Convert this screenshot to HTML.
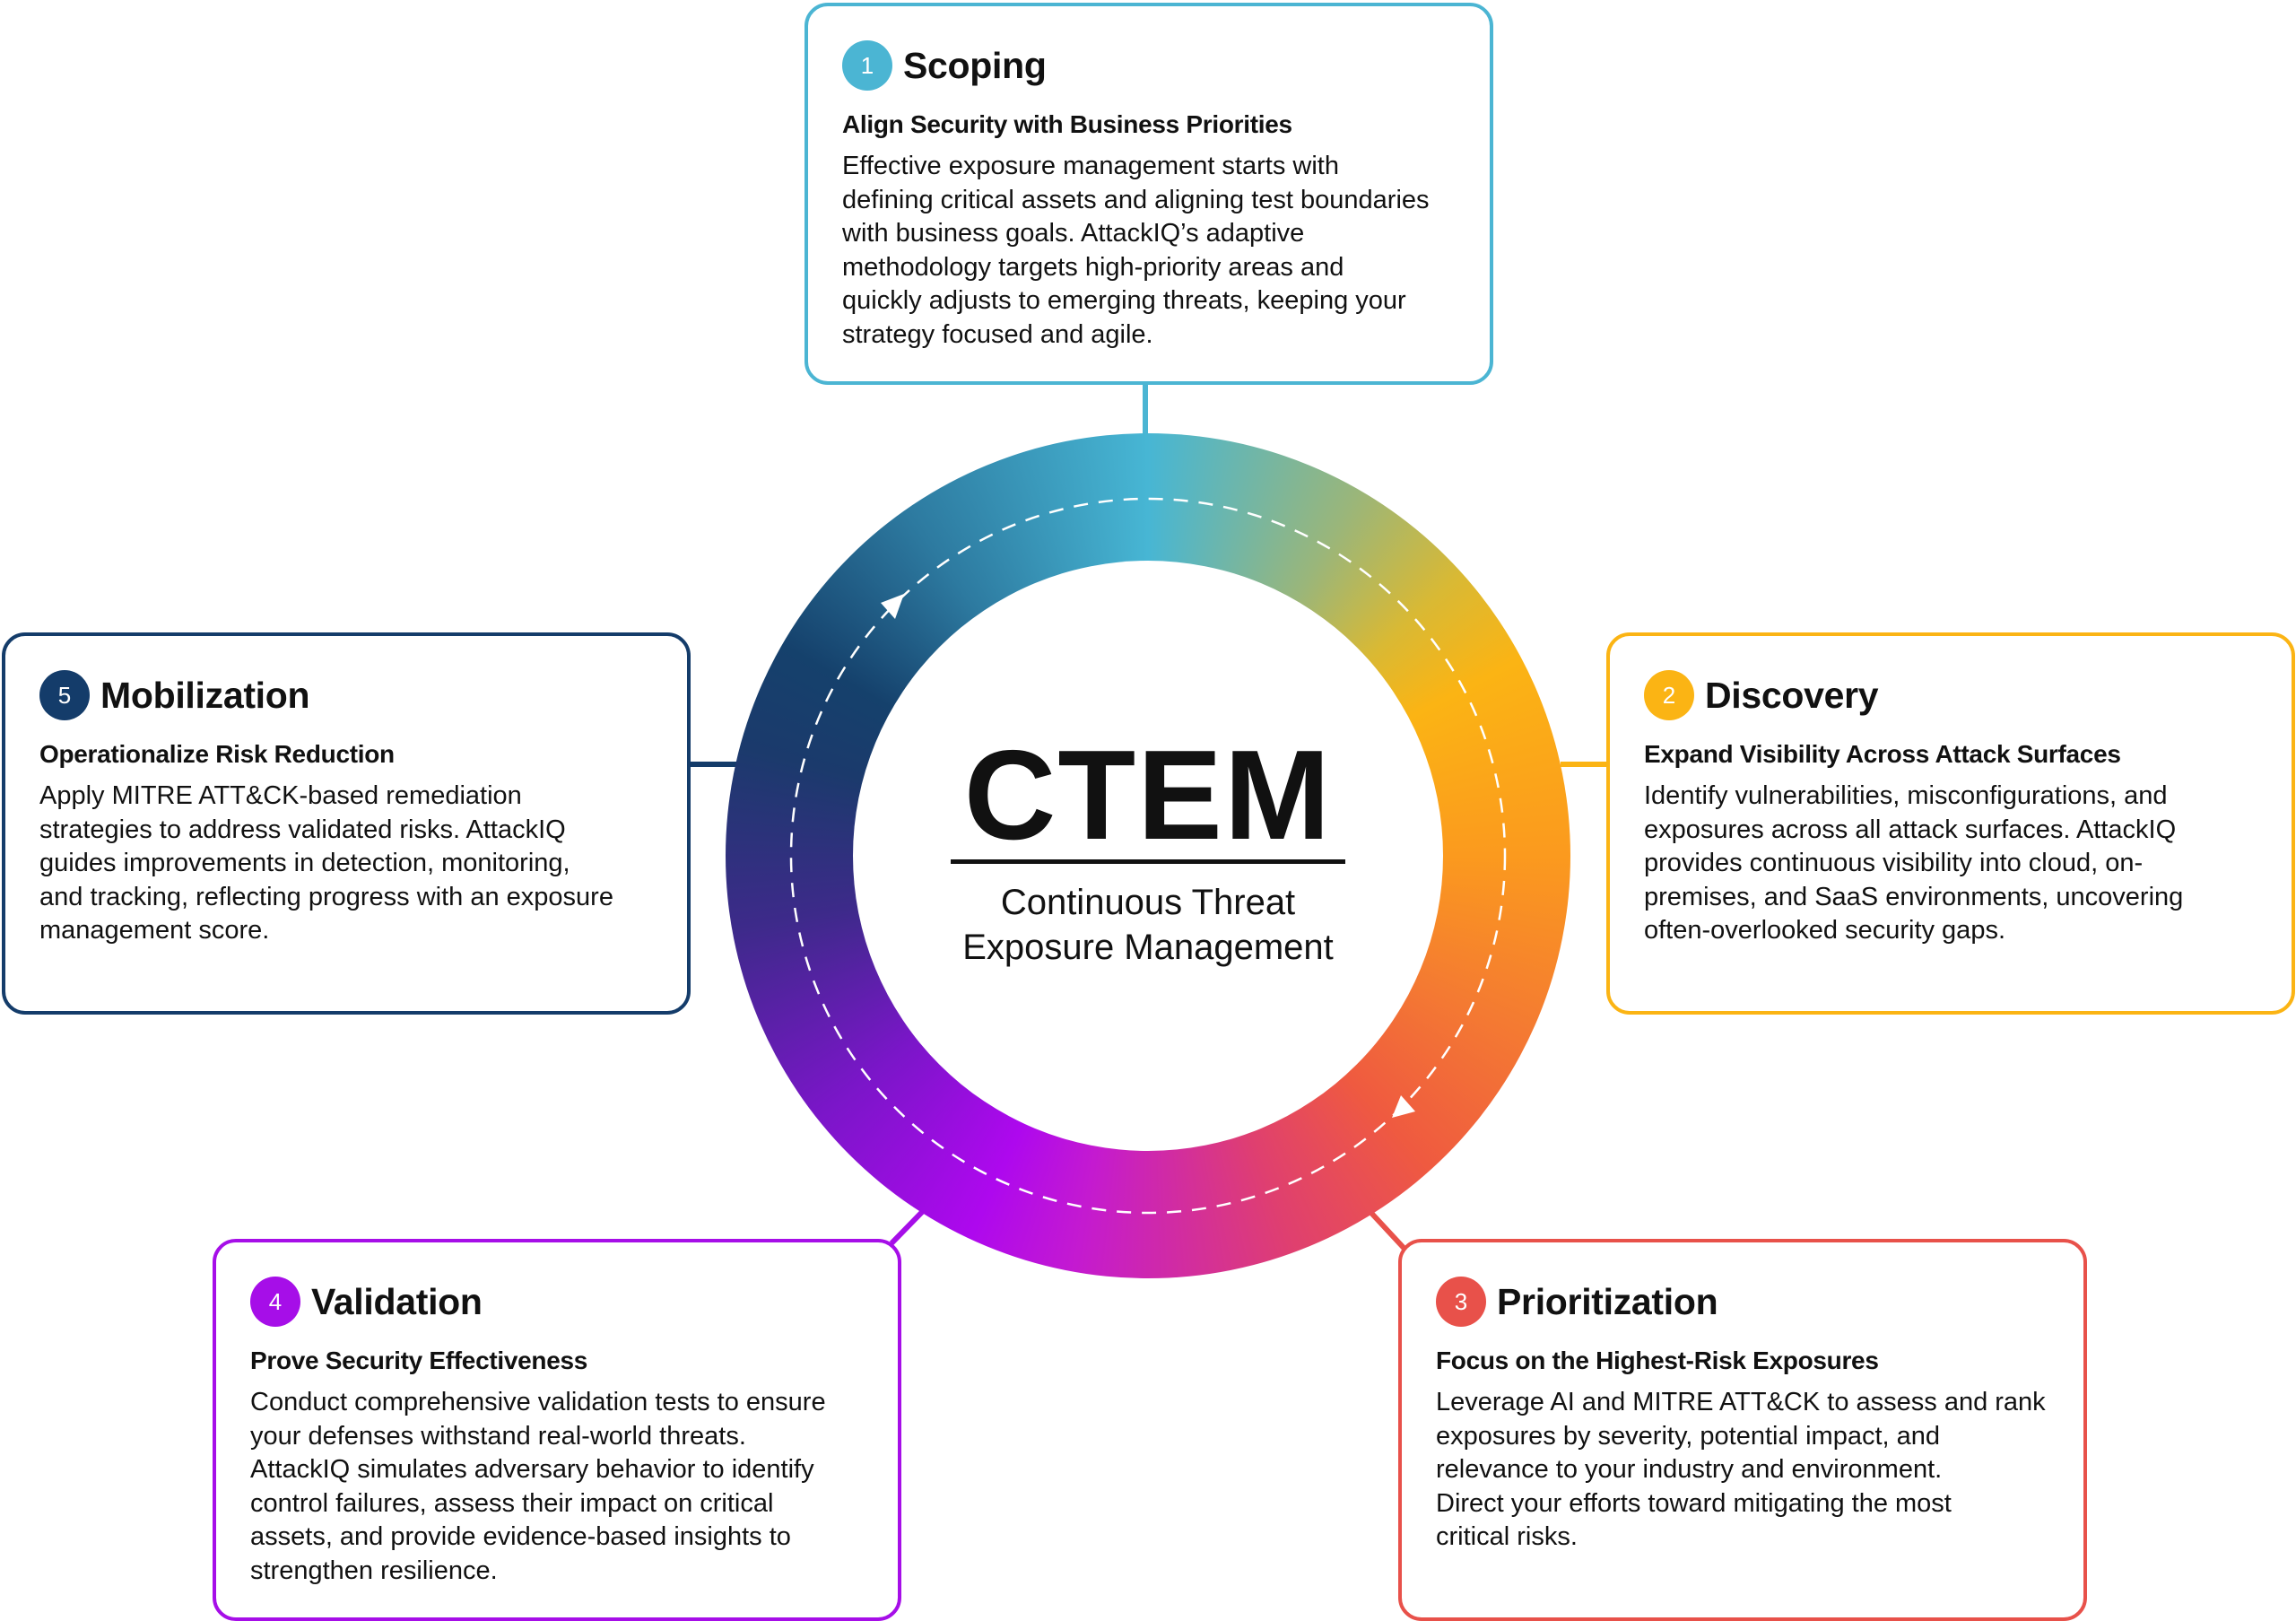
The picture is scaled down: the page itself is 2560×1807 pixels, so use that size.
<!DOCTYPE html>
<html><head><meta charset="utf-8"><style>
html,body{margin:0;padding:0;}
body{width:2560px;height:1807px;position:relative;background:#fff;overflow:hidden;font-family:"Liberation Sans",sans-serif;color:#111;}
.box{position:absolute;box-sizing:border-box;border:4px solid;border-radius:26px;background:#fff;width:768px;height:426px;}
.num{position:absolute;left:38px;top:38px;width:56px;height:56px;border-radius:50%;color:#fff;font-size:26px;line-height:56px;text-align:center;}
.title{position:absolute;left:106px;top:38px;font-size:41px;line-height:56px;font-weight:bold;letter-spacing:-0.3px;}
.sub{position:absolute;left:38px;top:112px;font-size:28px;line-height:40px;font-weight:bold;letter-spacing:-0.3px;}
.body{position:absolute;left:38px;top:160px;font-size:29px;line-height:37.6px;white-space:nowrap;letter-spacing:0px;}
.ln{position:absolute;}
</style></head><body>

<div class="ln" style="left:1274px;top:424px;width:6px;height:64px;background:#4bb5d3"></div>
<div class="ln" style="left:766px;top:849px;width:60px;height:6px;background:#143c6a"></div>
<div class="ln" style="left:1740px;top:849px;width:54px;height:6px;background:#fbb414"></div>
<svg style="position:absolute;left:0;top:0" width="2560" height="1807">
<line x1="994" y1="1386" x2="1034" y2="1345" stroke="#a60ee8" stroke-width="6"/>
<line x1="1527" y1="1350" x2="1566" y2="1392" stroke="#e8514a" stroke-width="6"/>
</svg>

<div style="position:absolute;left:809px;top:483px;width:942px;height:942px;border-radius:50%;
background:conic-gradient(from 0deg,#47b6d4 0deg,#9ab67a 30deg,#d9b934 48deg,#fbb414 62deg,#fb9a1e 90deg,#f47a32 115deg,#ef5a40 138deg,#df3f70 160deg,#c41ad0 190deg,#ae08ee 205deg,#7a16c8 232deg,#3d2a8a 260deg,#1b3a6c 285deg,#15416c 300deg,#2d7aa0 325deg,#47b6d4 360deg);"></div>
<div style="position:absolute;left:951px;top:625px;width:658px;height:658px;border-radius:50%;background:#fff;"></div>
<svg style="position:absolute;left:0;top:0" width="2560" height="1807">
<circle cx="1280" cy="954" r="398" fill="none" stroke="#fff" stroke-width="2.5" stroke-dasharray="16 12"/>
<polygon points="1008,662 982,672 998,690" fill="#fff"/>
<polygon points="1552,1246 1578,1239 1562,1221" fill="#fff"/>
</svg>

<div style="position:absolute;left:1060px;top:812px;width:440px;text-align:center;font-size:142px;line-height:150px;font-weight:bold;letter-spacing:2px;">CTEM</div>
<div style="position:absolute;left:1060px;top:958px;width:440px;height:5px;background:#111"></div>
<div style="position:absolute;left:1000px;top:981px;width:560px;text-align:center;font-size:40px;line-height:50px;">Continuous Threat<br>Exposure Management</div>

<div class="box" style="left:897px;top:3px;border-color:#4bb5d3">
<div class="num" style="background:#4bb5d3">1</div>
<div class="title">Scoping</div>
<div class="sub">Align Security with Business Priorities</div>
<div class="body">Effective exposure management starts with<br>defining critical assets and aligning test boundaries<br>with business goals. AttackIQ’s adaptive<br>methodology targets high-priority areas and<br>quickly adjusts to emerging threats, keeping your<br>strategy focused and agile.</div>
</div>

<div class="box" style="left:2px;top:705px;border-color:#143c6a">
<div class="num" style="background:#143c6a">5</div>
<div class="title">Mobilization</div>
<div class="sub">Operationalize Risk Reduction</div>
<div class="body">Apply MITRE ATT&amp;CK-based remediation<br>strategies to address validated risks. AttackIQ<br>guides improvements in detection, monitoring,<br>and tracking, reflecting progress with an exposure<br>management score.</div>
</div>

<div class="box" style="left:1791px;top:705px;border-color:#fbb414">
<div class="num" style="background:#fbb414">2</div>
<div class="title">Discovery</div>
<div class="sub">Expand Visibility Across Attack Surfaces</div>
<div class="body">Identify vulnerabilities, misconfigurations, and<br>exposures across all attack surfaces. AttackIQ<br>provides continuous visibility into cloud, on-<br>premises, and SaaS environments, uncovering<br>often-overlooked security gaps.</div>
</div>

<div class="box" style="left:237px;top:1381px;border-color:#a60ee8">
<div class="num" style="background:#a60ee8">4</div>
<div class="title">Validation</div>
<div class="sub">Prove Security Effectiveness</div>
<div class="body">Conduct comprehensive validation tests to ensure<br>your defenses withstand real-world threats.<br>AttackIQ simulates adversary behavior to identify<br>control failures, assess their impact on critical<br>assets, and provide evidence-based insights to<br>strengthen resilience.</div>
</div>

<div class="box" style="left:1559px;top:1381px;border-color:#e8514a">
<div class="num" style="background:#e8514a">3</div>
<div class="title">Prioritization</div>
<div class="sub">Focus on the Highest-Risk Exposures</div>
<div class="body">Leverage AI and MITRE ATT&amp;CK to assess and rank<br>exposures by severity, potential impact, and<br>relevance to your industry and environment.<br>Direct your efforts toward mitigating the most<br>critical risks.</div>
</div>

</body></html>
